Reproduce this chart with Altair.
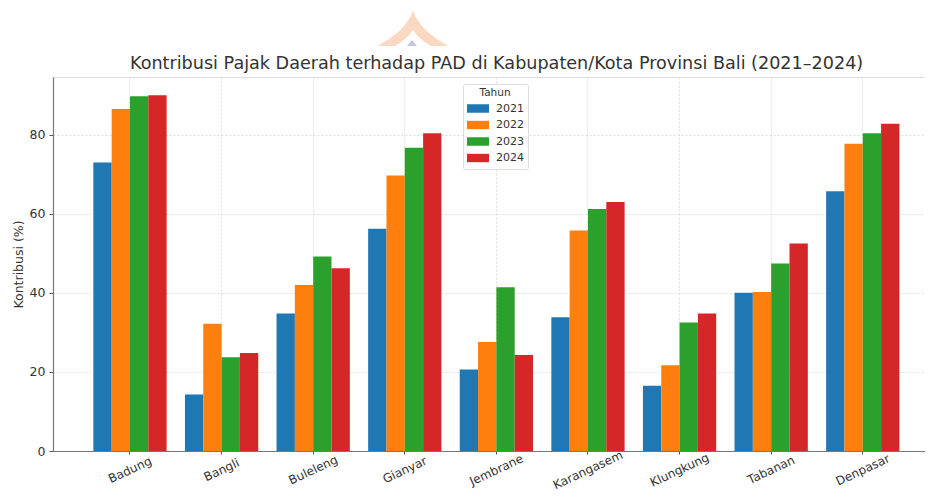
import altair as alt
import pandas as pd

regions = ["Badung", "Bangli", "Buleleng", "Gianyar", "Jembrane", "Karangasem", "Klungkung", "Tabanan", "Denpasar"]
years = ["2021", "2022", "2023", "2024"]
v2021 = [73.0, 14.3, 34.8, 56.2, 20.6, 33.8, 16.5, 40.0, 65.7]
v2022 = [86.5, 32.2, 42.0, 69.7, 27.6, 55.8, 21.7, 40.2, 77.7]
v2023 = [89.7, 23.7, 49.2, 76.7, 41.4, 61.2, 32.5, 47.4, 80.4]
v2024 = [90.0, 24.8, 46.2, 80.4, 24.3, 63.0, 34.8, 52.5, 82.8]
colors = ["#1f77b4", "#ff7f0e", "#2ca02c", "#d62728"]

rows = []
for y, vals in zip(years, [v2021, v2022, v2023, v2024]):
    for r, v in zip(regions, vals):
        rows.append({"Kabupaten": r, "Tahun": y, "Kontribusi": v})
df = pd.DataFrame(rows)

FONT = "DejaVu Sans"

bars = alt.Chart(df).mark_bar(clip=False).encode(
    x=alt.X("Kabupaten:N", sort=regions,
            scale=alt.Scale(paddingInner=0, paddingOuter=0.26, align=0.655),
            axis=alt.Axis(title=None, labelAngle=-25, labelAlign="center", labelBaseline="middle",
                          labelPadding=15.5, labelFontSize=12, labelFont=FONT, labelColor="#333333",
                          tickColor="#555555", tickSize=3, domain=True, domainColor="#777777", domainWidth=1.2,
                          grid=True, gridColor="#d4d4d4", gridDash=[2, 2], gridWidth=0.8, labelOverlap=False)),
    xOffset=alt.XOffset("Tahun:N", sort=years, scale=alt.Scale(paddingInner=0, paddingOuter=0.5)),
    y=alt.Y("Kontribusi:Q", scale=alt.Scale(domain=[0, 94.6], nice=False),
            axis=alt.Axis(title="Kontribusi (%)", values=[0, 20, 40, 60, 80], titleFontSize=12.5,
                          titleFont=FONT, titleFontWeight="normal", titleColor="#333333", titlePadding=4,
                          labelFontSize=12.5, labelFont=FONT, labelColor="#333333", labelPadding=4,
                          domainColor="#777777", domainWidth=1.2, tickColor="#555555", tickSize=4,
                          grid=True, gridColor="#d4d4d4", gridDash=[2, 2], gridWidth=0.8)),
    color=alt.Color("Tahun:N", sort=years, scale=alt.Scale(domain=years, range=colors),
                    legend=alt.Legend(orient="none", legendX=410, legendY=7, title="Tahun",
                                      titleFontSize=10.5, titleFont=FONT, titleFontWeight="normal",
                                      titleColor="#333333", titleAnchor="middle", titlePadding=3,
                                      labelFontSize=11, labelFont=FONT, labelColor="#333333", labelOffset=7,
                                      symbolType="M-1,-0.38H1V0.38H-1Z", symbolSize=484, symbolStrokeWidth=0,
                                      symbolOpacity=1, rowPadding=2.5, clipHeight=14, padding=4,
                                      fillColor="#ffffff", strokeColor="#dddddd", cornerRadius=2)),
)

logo = alt.Chart(pd.DataFrame({"a": [1]})).mark_point(
    filled=True, clip=False, opacity=1, fill="#fbd8c2", size=5041,
    shape="M0,-1 C0.15,-0.55 0.55,-0.25 1,0 L0.5,0 C0.35,-0.1 0.12,-0.25 0,-0.45 C-0.12,-0.25 -0.35,-0.1 -0.5,0 L-1,0 C-0.55,-0.25 -0.15,-0.55 0,-1 Z"
).encode(x=alt.value(360), y=alt.value(-31))

logo2 = alt.Chart(pd.DataFrame({"a": [1]})).mark_point(
    filled=True, clip=False, opacity=1, fill="#c3c3e3", size=100,
    shape="M0,-0.6 L1,0.6 L-1,0.6 Z"
).encode(x=alt.value(359), y=alt.value(-34))

chart = alt.layer(bars, logo, logo2).properties(
    width=872, height=374,
    padding={"left": 45, "top": 69, "right": 0, "bottom": 40},
    autosize=alt.AutoSizeParams(type="none"),
    title=alt.TitleParams("Kontribusi Pajak Daerah terhadap PAD di Kabupaten/Kota Provinsi Bali (2021–2024)",
                          font=FONT, fontSize=17.6, fontWeight="normal", color="#333333",
                          anchor="start", dx=77, offset=-62, frame="group"),
).configure_view(stroke="transparent").configure(background="#ffffff")

chart.save("out.html", embed_options={"renderer": "svg", "actions": False})
